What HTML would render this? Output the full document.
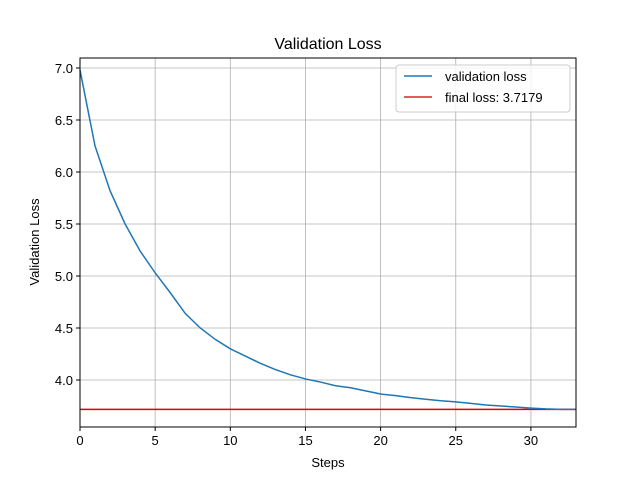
<!DOCTYPE html>
<html><head><meta charset="utf-8"><style>
body{margin:0;background:#fff;}
svg{font-family:"Liberation Sans","DejaVu Sans",sans-serif;}
</style></head><body>
<svg id="chart" width="640" height="480" xmlns="http://www.w3.org/2000/svg">
<rect width="640" height="480" fill="#fff"/>
<g id="grid"></g>
<g id="series"></g>
<rect x="80" y="58" width="496" height="369" fill="none" stroke="#000" stroke-width="1"/>
<g id="ticks"></g>
<text x="328" y="49" font-size="16" text-anchor="middle">Validation Loss</text>
<text x="328" y="467" font-size="13" text-anchor="middle">Steps</text>
<text transform="translate(39,242) rotate(-90)" font-size="13" text-anchor="middle">Validation Loss</text>
<g>
<rect x="396" y="65" width="174" height="47" rx="3" fill="#fff" fill-opacity="0.8" stroke="#ccc"/>
<line x1="404" y1="76" x2="432" y2="76" stroke="#1f77b4" stroke-width="1.5"/>
<text x="445" y="81" font-size="13">validation loss</text>
<line x1="404" y1="97" x2="432" y2="97" stroke="#d62728" stroke-width="1.5"/>
<text x="445" y="102" font-size="13">final loss: 3.7179</text>
</g>
</svg>
<script>
const steps=[0,1,2,3,4,5,6,7,8,9,10,11,12,13,14,15,16,17,18,19,20,21,22,23,24,25,26,27,28,29,30,31,32,33];
const losses=[6.98,6.25,5.82,5.50,5.24,5.03,4.84,4.64,4.50,4.39,4.30,4.23,4.16,4.10,4.05,4.01,3.98,3.945,3.925,3.895,3.865,3.85,3.83,3.815,3.80,3.79,3.775,3.76,3.75,3.74,3.73,3.722,3.718,3.7179];
const finalLoss=3.7179;
const xTicks=[0,5,10,15,20,25,30];
const yTicks=["4.0","4.5","5.0","5.5","6.0","6.5","7.0"];
const NS="http://www.w3.org/2000/svg";
const X0=80,X1=576,Y0=58,Y1=427,xmin=0,xmax=33,ymin=3.548,ymax=7.096;
const sx=v=>X0+(v-xmin)/(xmax-xmin)*(X1-X0);
const sy=v=>Y1-(v-ymin)/(ymax-ymin)*(Y1-Y0);
function mk(tag,attrs,parent){const e=document.createElementNS(NS,tag);for(const k in attrs)e.setAttribute(k,attrs[k]);parent.appendChild(e);return e;}
const grid=document.getElementById('grid'),ticks=document.getElementById('ticks'),series=document.getElementById('series');
xTicks.forEach(t=>{const x=sx(t);
let g=mk('line',{x1:x,y1:Y0,x2:x,y2:Y1,stroke:'#b0b0b0','stroke-width':0.8},grid);


let tk=mk('line',{x1:x,y1:Y1,x2:x,y2:Y1+4,stroke:'#000'},ticks);


let tx=mk('text',{x:x,y:Y1+18,'font-size':13,'text-anchor':'middle'},ticks);tx.textContent=t;


});
yTicks.forEach(t=>{const y=sy(parseFloat(t));
let g=mk('line',{x1:X0,y1:y,x2:X1,y2:y,stroke:'#b0b0b0','stroke-width':0.8},grid);


let tk=mk('line',{x1:X0-4,y1:y,x2:X0,y2:y,stroke:'#000'},ticks);


let tx=mk('text',{x:X0-7,y:y+5,'font-size':13,'text-anchor':'end'},ticks);tx.textContent=t;


});
let fl=mk('line',{x1:X0,y1:sy(finalLoss),x2:X1,y2:sy(finalLoss),stroke:'#e00000','stroke-width':1.5},series);


let pl=mk('polyline',{points:steps.map((s,i)=>sx(s)+','+sy(losses[i])).join(' '),fill:'none',stroke:'#1f77b4','stroke-width':1.5},series);


</script>
</body></html>
